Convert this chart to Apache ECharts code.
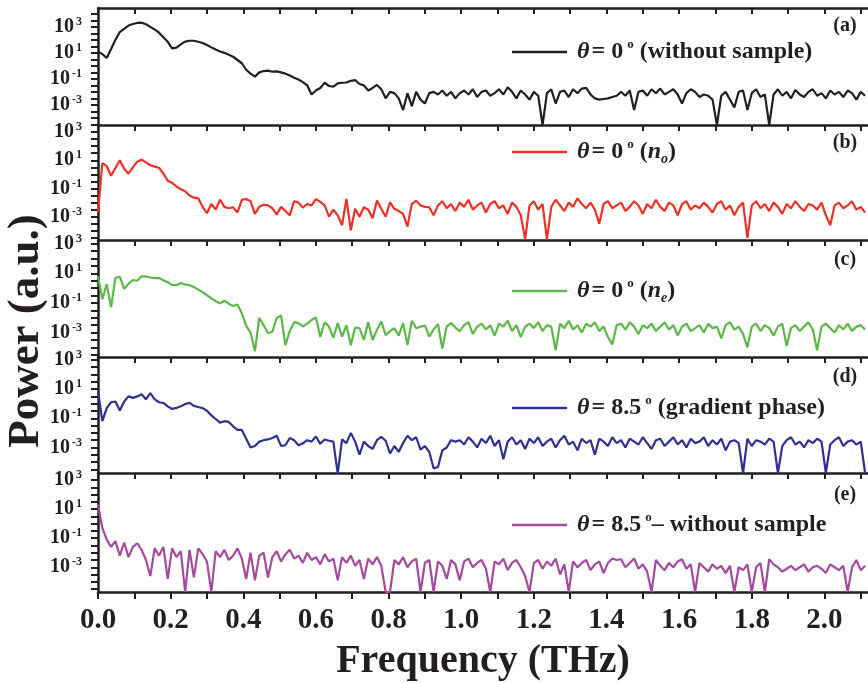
<!DOCTYPE html>
<html><head><meta charset="utf-8">
<script src="https://cdn.jsdelivr.net/npm/echarts@6/dist/echarts.min.js"></script>
<style>html,body{margin:0;padding:0;background:#fff}#c{width:868px;height:683px}</style>
</head><body><div id="c"></div>
<script>
// Frequency grid (THz): uniformly sampled spectrum
const freqStep = 0.012;
// Series values: log10 of Power (a.u.)
const log10PowerA = [
1.1,0.9,0.6,1.3,2.0,2.6,2.85,3.1,3.22,3.3,
3.32,3.2,3.0,2.8,2.55,2.2,1.85,1.35,1.4,1.65,
1.86,1.93,1.93,1.85,1.76,1.6,1.42,1.25,1.1,1.0,
0.85,0.7,0.45,0.2,-0.3,-0.6,-0.83,-0.5,-0.4,-0.37,
-0.45,-0.42,-0.5,-0.6,-0.75,-0.92,-1.05,-1.25,-1.5,-2.2,
-1.9,-1.7,-1.3,-1.55,-1.6,-1.35,-1.3,-1.28,-1.15,-1.1,
-1.4,-1.5,-1.9,-1.7,-1.47,-1.8,-2.5,-2.0,-2.1,-2.5,
-3.4,-2.1,-3.1,-2.0,-2.6,-2.9,-2.1,-2.0,-2.2,-1.9,
-2.3,-2.0,-2.5,-2.1,-1.9,-2.2,-1.8,-2.4,-2.0,-1.9,
-2.3,-2.1,-1.8,-2.2,-1.65,-2.0,-2.5,-1.9,-2.2,-2.6,
-2.0,-2.3,-4.55,-2.1,-1.8,-2.9,-2.0,-1.9,-2.4,-1.8,
-2.1,-1.75,-1.7,-2.2,-2.5,-2.6,-2.55,-2.5,-2.4,-2.3,
-2.0,-2.3,-1.9,-3.4,-2.0,-1.9,-2.3,-1.8,-2.1,-1.75,
-2.2,-2.0,-1.8,-2.2,-2.9,-2.1,-1.8,-2.0,-2.4,-2.2,
-2.3,-2.6,-4.55,-2.3,-2.0,-2.6,-3.2,-2.0,-1.9,-3.4,
-2.1,-1.8,-2.4,-2.2,-4.55,-2.2,-1.8,-2.3,-2.0,-2.5,
-1.85,-2.2,-2.4,-2.0,-1.8,-2.3,-2.1,-2.5,-1.9,-2.2,
-2.0,-2.4,-1.9,-2.1,-2.6,-2.0,-2.3];
const log10PowerB = [
-2.7,0.8,0.58,-0.1,0.45,1.0,0.4,0.05,0.5,0.9,
1.05,0.85,0.65,0.55,0.47,0.05,-0.45,-0.6,-0.85,-1.05,
-1.2,-1.5,-1.65,-1.7,-2.3,-2.75,-2.1,-2.5,-1.8,-2.3,
-2.4,-2.33,-2.7,-1.8,-1.75,-1.9,-2.8,-2.3,-2.15,-2.2,
-2.4,-2.85,-2.3,-2.6,-2.9,-1.9,-2.0,-2.35,-2.1,-2.2,
-1.75,-1.95,-2.2,-3.0,-2.5,-2.9,-3.6,-1.74,-3.96,-2.44,
-3.0,-2.33,-2.5,-3.1,-1.86,-2.44,-3.0,-1.98,-2.44,-2.6,
-2.8,-3.7,-2.1,-1.86,-2.2,-2.3,-2.33,-2.9,-2.2,-1.9,
-2.4,-2.1,-2.6,-2.0,-2.3,-1.8,-2.5,-2.2,-2.0,-2.7,
-2.1,-1.9,-2.4,-2.2,-2.8,-2.0,-2.3,-2.9,-4.6,-2.2,
-1.9,-2.5,-2.1,-4.6,-2.3,-1.8,-2.2,-2.6,-2.0,-2.3,
-1.7,-2.1,-2.4,-2.0,-2.5,-3.5,-2.1,-1.9,-2.4,-2.2,
-2.0,-2.6,-2.3,-1.9,-2.2,-2.8,-2.1,-2.4,-1.8,-2.3,
-2.6,-2.0,-2.2,-2.9,-2.1,-1.9,-2.5,-2.2,-2.4,-2.0,
-2.3,-2.7,-2.1,-1.9,-2.5,-2.2,-2.9,-2.3,-2.0,-4.5,
-2.2,-1.9,-2.4,-2.1,-2.6,-2.0,-2.3,-2.8,-2.1,-2.4,
-1.9,-2.3,-2.6,-2.1,-2.2,-2.5,-2.0,-2.9,-3.6,-2.2,
-2.0,-2.4,-2.2,-1.9,-2.5,-2.3,-2.7];
const log10PowerC = [
0.8,-0.75,0.27,-1.3,0.7,0.77,-0.05,0.3,0.55,0.5,
0.8,0.8,0.72,0.68,0.68,0.54,0.4,0.22,0.2,0.35,
0.25,0.2,0.08,-0.1,-0.28,-0.48,-0.69,-0.88,-1.02,-0.85,
-1.05,-1.2,-1.1,-1.7,-2.55,-3.0,-4.26,-2.0,-2.5,-3.05,
-2.94,-2.02,-1.84,-3.85,-2.9,-2.3,-2.36,-2.59,-2.4,-2.15,
-1.97,-3.3,-2.3,-2.6,-3.35,-2.36,-3.28,-2.5,-3.85,-2.66,
-2.71,-3.5,-2.29,-3.5,-2.82,-2.25,-3.17,-2.9,-2.71,-3.21,
-2.36,-3.85,-2.2,-2.71,-2.6,-2.52,-3.28,-2.8,-2.43,-4.08,
-2.6,-2.36,-2.66,-2.9,-2.5,-2.3,-3.1,-2.6,-2.4,-2.8,
-2.5,-3.2,-2.4,-2.6,-2.2,-2.9,-2.5,-3.3,-2.6,-2.4,
-2.7,-2.3,-2.9,-2.5,-2.6,-4.2,-2.4,-2.7,-2.2,-2.8,
-2.5,-3.0,-2.4,-2.6,-2.3,-2.9,-2.6,-3.3,-3.8,-2.5,
-2.4,-2.8,-2.3,-2.6,-3.1,-2.5,-2.7,-2.4,-2.9,-2.6,
-2.3,-2.8,-2.5,-3.2,-2.6,-2.4,-2.9,-2.7,-2.5,-3.0,
-2.4,-2.7,-2.6,-3.4,-2.5,-2.3,-2.8,-2.6,-3.1,-4.0,
-2.6,-2.4,-2.9,-2.5,-2.7,-3.2,-2.6,-2.4,-3.9,-2.7,
-2.5,-2.9,-2.6,-2.3,-2.8,-4.2,-2.6,-2.4,-2.7,-3.0,
-2.5,-2.8,-2.4,-2.9,-2.6,-2.5,-2.8];
const log10PowerD = [
0.9,-1.2,-0.3,0.1,0.15,-0.47,0.15,0.5,0.4,0.5,
0.65,0.3,0.72,0.3,0.1,0.05,-0.18,-0.36,-0.29,-0.18,
-0.03,0.06,-0.15,-0.23,-0.3,-0.48,-0.8,-1.05,-1.3,-1.2,
-1.25,-1.55,-1.8,-1.8,-2.4,-3.0,-2.9,-2.6,-2.5,-2.45,
-2.35,-2.2,-2.89,-2.85,-2.35,-2.5,-2.85,-2.72,-2.5,-2.6,
-2.25,-2.75,-2.45,-2.54,-2.6,-4.79,-2.45,-2.7,-2.0,-2.6,
-3.5,-2.6,-2.9,-3.1,-2.5,-2.27,-2.54,-3.41,-2.9,-3.3,
-2.7,-2.2,-2.5,-2.3,-3.15,-2.9,-3.3,-4.43,-4.34,-3.2,
-3.0,-2.5,-2.6,
-2.5,-2.8,-2.3,-2.6,-3.0,-2.4,-2.7,-2.2,-2.9,-2.5,
-3.8,-2.6,-2.3,-2.8,-2.5,-3.1,-2.4,-2.7,-2.3,-2.9,
-2.6,-2.4,-3.0,-2.5,-2.2,-2.8,-2.6,-3.2,-2.4,-2.7,
-2.5,-3.5,-2.4,-2.6,-2.9,-2.3,-2.7,-2.5,-3.0,-2.4,
-2.6,-2.8,-2.3,-2.7,-3.1,-2.5,-2.4,-2.9,-2.6,-2.3,
-2.8,-2.5,-3.0,-2.4,-2.7,-2.6,-2.3,-2.9,-2.5,-2.8,
-2.4,-3.2,-2.6,-2.5,-2.7,-4.75,-2.4,-2.9,-2.5,-2.6,
-2.8,-2.4,-2.6,-4.75,-2.9,-2.5,-2.3,-2.8,-2.6,-3.0,
-2.5,-2.7,-2.4,-2.6,-4.75,-2.8,-2.5,-2.3,-2.9,-2.6,
-2.5,-2.8,-2.6,-4.75];
const log10PowerE = [
1.3,-0.3,-1.1,-1.6,-1.2,-2.2,-1.3,-2.3,-1.6,-1.35,-1.8,-2.5,-3.6,-1.7,-2.2,
-1.6,-3.8,-1.7,-2.3,-1.9,-4.7,-1.8,-3.7,-1.7,-2.1,
-2.6,-4.7,-1.9,-2.3,-1.8,-2.5,-2.2,-1.7,-2.4,-3.8,
-2.0,-3.9,-2.2,-2.0,-3.7,-2.3,-1.9,-2.6,-2.1,-1.8,
-2.4,-2.2,-2.7,-2.0,-2.5,-2.3,-2.8,-2.1,-2.6,-2.4,
-3.9,-2.3,-2.7,-2.2,-2.9,-2.5,-3.8,-2.4,-2.8,-2.3,
-2.9,-4.7,-4.7,-2.5,-2.8,-2.3,-3.0,-2.6,-2.4,-4.7,
-2.7,-2.5,-4.7,-2.6,-2.9,-3.8,-2.5,-2.8,-3.9,-2.6,
-2.4,-3.0,-2.7,-2.5,-3.1,-4.7,-2.6,-2.8,-2.4,-3.2,
-2.7,-2.5,-3.0,-3.6,-4.7,-2.7,-2.5,-3.1,-2.6,-2.9,
-2.4,-3.5,-2.8,-4.7,-2.6,-3.0,-2.7,-2.5,-3.2,-2.8,
-2.6,-3.4,-2.7,-2.4,-2.5,-2.45,-3.0,-2.7,-2.4,-3.1,
-2.8,-3.3,-4.7,-2.5,-2.9,-3.2,-2.7,-3.0,-2.6,-2.45,
-3.1,-2.8,-4.7,-2.7,-3.0,-3.3,-2.8,-3.1,-2.9,-3.4,
-2.9,-4.7,-3.0,-3.2,-2.8,-4.7,-3.0,-2.7,-4.7,-2.45,
-2.8,-3.0,-3.3,-3.1,-2.9,-3.2,-3.0,-2.8,-3.3,-3.0,
-2.9,-3.1,-3.4,-2.8,-3.0,-3.2,-2.9,-4.7,-3.0,-2.5,
-3.2,-2.9];
const seriesNames = ['θ = 0° (without sample)','θ = 0° (n_o)','θ = 0° (n_e)','θ = 8.5° (gradient phase)','θ = 8.5° – without sample'];
const panelLetters = ['(a)','(b)','(c)','(d)','(e)'];
const yLabelExponents = [-3,-1,1,3];
const yTickExponents = [-4.5,-4,-3.5,-3,-2.5,-2,-1.5,-1,-0.5,0,0.5,1,1.5,2,2.5,3,3.5,4];
const xTickValues = [0,0.1,0.2,0.3,0.4,0.5,0.6,0.7,0.8,0.9,1.0,1.1,1.2,1.3,1.4,1.5,1.6,1.7,1.8,1.9,2.0,2.1];
const xLabelValues = [0,0.2,0.4,0.6,0.8,1.0,1.2,1.4,1.6,1.8,2.0];
const xTitle = 'Frequency (THz)';
const yTitle = 'Power (a.u.)';

const N = log10PowerA.length;
const frequency = Array.from({length: N}, (_, i) => +(i * freqStep).toFixed(3));
const allSeries = [log10PowerA, log10PowerB, log10PowerC, log10PowerD, log10PowerE];
const colors = ['#231f20', '#ee3124', '#5cb947', '#2e3192', '#a54a9e'];
const ink = '#231f20';
const serif = '"Liberation Serif", "Times New Roman", serif';

const panels = [
  {top: 8, height: 117, min: -4.55, max: 4.45, legendY: 52, letterY: 26},
  {top: 125, height: 115, min: -4.65, max: 3.5, legendY: 152, letterY: 143},
  {top: 240, height: 117, min: -4.65, max: 3.25, legendY: 291, letterY: 260},
  {top: 357, height: 116, min: -4.75, max: 3.2, legendY: 408, letterY: 377},
  {top: 473, height: 119, min: -4.7, max: 3.48, legendY: 525, letterY: 495}
];
const legendRich = [
  '{t|θ}{n|= 0}{s|o}{n| (without sample)}',
  '{t|θ}{n|= 0}{s|o}{n| (}{i|n}{sub|o}{n|)}',
  '{t|θ}{n|= 0}{s|o}{n| (}{i|n}{sub|e}{n|)}',
  '{t|θ}{n|= 8.5}{s|o}{n| (gradient phase)}',
  '{t|θ}{n|= 8.5}{s|o}{n|– without sample}'
];
const richStyles = {
  n: {fontFamily: serif, fontWeight: 'bold', fontSize: 24, color: ink, lineHeight: 28},
  t: {fontFamily: serif, fontWeight: 'bold', fontStyle: 'italic', fontSize: 24, color: ink, lineHeight: 28, padding: [0, 2, 0, 5]},
  i: {fontFamily: serif, fontWeight: 'bold', fontStyle: 'italic', fontSize: 24, color: ink, lineHeight: 28},
  s: {fontFamily: serif, fontWeight: 'bold', fontSize: 13, color: ink, verticalAlign: 'top', padding: [0, 0, 0, 4]},
  sub: {fontFamily: serif, fontWeight: 'bold', fontStyle: 'italic', fontSize: 14, color: ink, verticalAlign: 'bottom'}
};

const grids = panels.map(p => ({left: 98, right: 0, top: p.top, height: p.height}));
const xAxes = [];
// data axes (THz): each carries its panel's top frame line with inward ticks, except panel e (labelled bottom axis)
panels.forEach((p, k) => {
  const last = k === panels.length - 1;
  xAxes.push({
    type: 'value', gridIndex: k, min: 0, max: 2.12,
    position: last ? 'bottom' : 'top',
    axisLine: {show: true, onZero: false, lineStyle: {color: ink, width: 2.5}},
    axisTick: {show: true, inside: !last, customValues: xTickValues, length: last ? 7 : 6, lineStyle: {color: ink, width: 2}},
    splitLine: {show: false},
    axisLabel: {show: last, customValues: xLabelValues, margin: 14, formatter: v => v.toFixed(1),
      fontFamily: serif, fontWeight: 'bold', fontSize: 29, color: ink},
    name: last ? xTitle : '', nameLocation: 'middle', nameGap: 50,
    nameTextStyle: {fontFamily: serif, fontWeight: 'bold', fontSize: 40, color: ink}
  });
});
// panel e top frame line with inward ticks
xAxes.push({
  type: 'value', gridIndex: 4, min: 0, max: 2.12, position: 'top',
  axisLine: {show: true, onZero: false, lineStyle: {color: ink, width: 2.5}},
  axisTick: {show: true, inside: true, customValues: xTickValues, length: 6, lineStyle: {color: ink, width: 2}},
  axisLabel: {show: false}, splitLine: {show: false}
});
const yAxes = panels.map((p, k) => ({
  type: 'value', gridIndex: k, min: p.min, max: p.max, position: 'left',
  axisLine: {show: true, onZero: false, lineStyle: {color: ink, width: 2.5}},
  axisTick: {show: true, customValues: yTickExponents, length: 7, lineStyle: {color: ink, width: 2}},
  splitLine: {show: false},
  axisLabel: {show: true, customValues: yLabelExponents, margin: 16,
    formatter: v => '{b|10}{s|' + v + '}',
    rich: {
      b: {fontFamily: serif, fontWeight: 'bold', fontSize: 20, color: ink, lineHeight: 22},
      s: {fontFamily: serif, fontWeight: 'bold', fontSize: 12, color: ink, verticalAlign: 'top', padding: [0, 0, 0, 2]}
    }}
}));

const option = {
  animation: false,
  backgroundColor: '#fff',
  grid: grids,
  xAxis: xAxes,
  yAxis: yAxes,
  legend: panels.map((p, k) => ({
    data: [seriesNames[k]], left: 512, top: p.legendY - 14, icon: 'rect',
    itemWidth: 55, itemHeight: 2.5, selectedMode: false, padding: 0,
    formatter: () => legendRich[k],
    textStyle: {rich: richStyles}
  })),
  graphic: [
    {type: 'text', x: 26, y: 331, rotation: Math.PI / 2,
      style: {text: yTitle, font: 'bold 45px ' + serif, fill: ink, textAlign: 'center', textVerticalAlign: 'middle'}}
  ].concat(panels.map((p, k) => ({
    type: 'text', x: 845, y: p.letterY,
    style: {text: panelLetters[k], font: 'bold 20px ' + serif, fill: ink, textAlign: 'center', textVerticalAlign: 'middle'}
  }))),
  series: allSeries.map((vals, k) => ({
    name: seriesNames[k], type: 'line', xAxisIndex: k, yAxisIndex: k,
    data: frequency.map((f, i) => [f, vals[i]]),
    showSymbol: false, symbol: 'none', clip: true,
    lineStyle: {width: 2.2, color: colors[k]}, itemStyle: {color: colors[k]}
  }))
};
const chart = echarts.init(document.getElementById('c'), null, {renderer: 'canvas'});
chart.setOption(option);
</script></body></html>
